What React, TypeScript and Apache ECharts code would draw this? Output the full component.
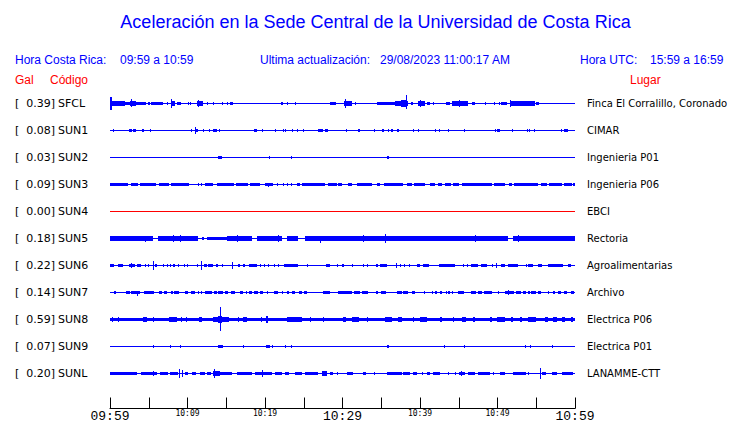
import React, { useEffect, useRef } from 'react';
import * as echarts from 'echarts';

const TITLE = 'Aceleración en la Sede Central de la Universidad de Costa Rica';
const HEADER_LOCAL = ['Hora Costa Rica:', '09:59 a 10:59'];
const HEADER_UPDATE = ['Ultima actualización:', '29/08/2023 11:00:17 AM'];
const HEADER_UTC = ['Hora UTC:', '15:59 a 16:59'];
const COL_HEADS = ['Gal', 'Código', 'Lugar'];

const CODES = ['SFCL', 'SUN1', 'SUN2', 'SUN3', 'SUN4', 'SUN5', 'SUN6', 'SUN7', 'SUN8', 'SUN9', 'SUNL'];
const PEAK_GAL = [0.39, 0.08, 0.03, 0.09, 0.0, 0.18, 0.22, 0.14, 0.59, 0.07, 0.2];
const PLACES = [
  'Finca El Corralillo, Coronado', 'CIMAR', 'Ingenieria P01', 'Ingenieria P06', 'EBCI', 'Rectoria',
  'Agroalimentarias', 'Archivo', 'Electrica P06', 'Electrica P01', 'LANAMME-CTT',
];
const TIME_LABELS = ['09:59', '10:09', '10:19', '10:29', '10:39', '10:49', '10:59'];
const T_MIN = 0;
const T_MAX = 60;

// Events: [start minute, end minute, amplitude up, amplitude down (optional)]
const EV_SFCL = [
  [0.0, 0.25, 6, 6.5], [0.25, 1.9, 1.8], [1.9, 2.6, 1.2], [2.6, 3.4, 2.2], [2.75, 2.9, 4, 3.5],
  [3.4, 4.6, 1.4], [4.9, 5.2, 1], [5.3, 6.9, 1.3], [7.3, 7.45, 0.8], [7.9, 8.4, 2.2], [7.9, 8.05, 4, 4.3],
  [8.6, 9.2, 1.4], [10.0, 10.12, 1], [10.3, 10.42, 0.8], [11.2, 12.0, 2.3], [11.3, 11.45, 3.5, 3.5],
  [12.5, 12.6, 0.6], [13.3, 13.42, 0.6], [14.5, 14.62, 0.6], [15.1, 15.22, 0.6], [15.5, 15.9, 1],
  [22.0, 22.3, 1.2], [22.8, 22.92, 0.6], [23.9, 24.02, 0.6], [28.4, 29.2, 1.3], [30.2, 31.2, 2],
  [30.3, 30.45, 4, 4], [31.6, 31.72, 0.6], [34.4, 36.8, 1.3], [36.8, 38.5, 2.3], [37.6, 38.3, 3.5],
  [38.15, 38.3, 8, 5.5], [38.9, 39.1, 0.7], [39.8, 40.6, 2], [40.0, 40.15, 2.8, 3.2], [40.9, 41.3, 1.2],
  [41.7, 41.82, 0.6], [43.4, 43.9, 1], [44.1, 46.2, 1.8], [45.0, 45.15, 3, 3], [46.7, 47.1, 1.2],
  [48.4, 48.52, 0.6], [49.5, 49.62, 0.6], [50.2, 50.32, 0.6], [50.5, 51.2, 1.2], [51.6, 54.8, 1.6],
  [51.6, 51.75, 3, 3], [55.0, 55.3, 1.2],
];
const EV_SUN1 = [
  [0.43, 0.55, 0.6], [2.45, 2.8, 1.3], [3.0, 3.3, 1.3], [4.17, 4.34, 1.2], [5.16, 5.28, 0.8],
  [10.45, 10.62, 1], [10.97, 11.4, 1.3], [11.0, 11.12, 3, 2.7], [12.04, 12.16, 0.6], [12.77, 12.89, 0.8],
  [13.33, 13.76, 1.3], [14.11, 14.23, 0.6], [18.62, 18.97, 1.3], [19.57, 19.69, 0.8], [21.29, 21.46, 1.1],
  [22.28, 22.4, 0.8], [22.58, 22.7, 0.8], [23.44, 23.56, 0.8], [24.17, 24.29, 0.8], [24.95, 25.07, 0.8],
  [26.88, 27.53, 1.3], [27.74, 28.09, 1.3], [30.41, 30.53, 0.8], [32.04, 32.26, 1.2], [34.11, 34.23, 0.8],
  [35.14, 35.31, 1.2], [35.91, 36.03, 0.8], [36.22, 36.34, 0.8], [36.43, 36.55, 0.8], [37.08, 37.25, 1.2],
  [39.14, 39.26, 0.8], [39.78, 39.9, 0.8], [41.94, 42.06, 0.8], [42.49, 42.61, 0.8], [43.66, 43.78, 0.8],
  [45.68, 45.8, 0.6], [49.68, 49.8, 0.8], [49.98, 50.32, 1.3], [51.91, 52.03, 0.8], [53.76, 53.88, 0.8],
  [54.06, 54.24, 1.2], [54.71, 54.83, 0.6], [58.19, 58.31, 0.6], [58.62, 59.05, 1.3],
];
const EV_SUN2 = [[13.98, 14.41, 1.3], [20.47, 20.59, 0.8], [23.4, 23.52, 0.8], [35.74, 36.0, 1.2]];
const EV_SUN3 = [
  [0, 2.28, 1.3], [2.71, 3.66, 1.3], [3.91, 5.89, 1.3], [6.32, 7.61, 1.3], [7.87, 10.19, 1.3],
  [11.31, 11.43, 0.8], [11.7, 11.83, 0.8], [12.26, 13.33, 1.3], [13.76, 16.0, 1.3], [16.2, 17.8, 1.3],
  [18.0, 19.35, 1.3], [20.0, 21.08, 1.3], [20.43, 20.55, 1.3, 2], [21.51, 21.72, 1.3], [22.37, 22.49, 0.8],
  [22.8, 22.92, 1], [23.35, 23.53, 1.3], [24.09, 24.52, 1.3], [24.82, 27.74, 1.3], [28.17, 29.25, 1.3],
  [29.46, 29.98, 1.3], [30.67, 31.27, 1.3], [31.83, 33.76, 1.3], [34.41, 34.84, 1.3], [35.4, 37.85, 1.3],
  [38.28, 38.92, 1.3], [39.27, 40.65, 1.3], [41.29, 41.94, 1.3], [42.37, 42.8, 1.3], [43.23, 44.0, 1.3],
  [44.3, 45.03, 1.3], [45.38, 49.25, 1.3], [49.59, 50.97, 1.3], [51.48, 51.91, 1.3], [52.17, 55.27, 1.3],
  [55.61, 56.34, 1.3], [56.65, 58.28, 1.3], [58.62, 59.57, 1.3], [59.78, 60, 1.3],
];
const EV_SUN4: number[][] = [];
const EV_SUN5 = [
  [0, 1.5, 1.8], [1.5, 3.2, 2.0], [3.2, 4.4, 1.7], [4.4, 5.59, 1.9], [4.5, 4.62, 2, 3],
  [6.24, 8.0, 1.8], [8.0, 9.5, 2.1], [8.17, 8.3, 3, 3], [9.0, 9.12, 3, 3], [9.5, 11.4, 1.7],
  [11.83, 12.17, 1.2], [12.47, 15.05, 1.5], [15.05, 18.28, 2.0], [16.34, 16.46, 3, 3],
  [18.92, 22.15, 1.8], [21.72, 21.84, 3, 3], [22.8, 24.3, 1.8], [25.16, 27.0, 1.7], [27.1, 27.22, 2, 4],
  [27.0, 30.0, 1.8], [30.0, 32.5, 1.9], [32.5, 35.0, 2.1], [32.69, 32.81, 3, 3], [33.76, 33.88, 2.5, 2.5],
  [35.0, 36.5, 2.0], [35.48, 35.6, 4, 4], [36.5, 42.0, 1.8], [42.0, 47.5, 1.9], [42.37, 42.49, 2.5, 2.5],
  [47.1, 47.22, 3, 3], [47.5, 51.4, 1.8], [52.04, 60, 1.8], [52.69, 52.81, 3, 3], [55.27, 55.39, 2.5, 2.5],
  [59.35, 59.47, 2.5, 2.5],
];
const EV_SUN6 = [
  [0, 0.56, 1.2], [1.08, 1.72, 1.2], [2.45, 3.23, 1.5], [2.65, 2.77, 2, 2], [3.53, 3.96, 1],
  [4.52, 4.64, 0.8], [4.95, 5.07, 0.8], [5.55, 5.67, 4, 4], [5.81, 6.02, 1], [6.88, 7.0, 0.6],
  [7.31, 7.43, 0.6], [7.74, 7.86, 0.8], [8.17, 8.39, 1.1], [8.73, 8.85, 0.6], [9.59, 9.71, 0.6],
  [9.89, 10.01, 0.6], [11.18, 11.3, 0.6], [11.8, 11.92, 4.5, 4.5], [12.13, 12.47, 1.1], [12.69, 13.33, 1.1],
  [13.68, 13.89, 1.1], [14.41, 14.54, 1], [15.8, 15.92, 3.5, 3.5], [16.56, 16.77, 1], [17.2, 17.42, 1.1],
  [17.98, 18.92, 1.1], [19.35, 19.47, 0.6], [19.91, 20.03, 0.8], [20.43, 20.55, 0.8], [21.2, 21.32, 0.8],
  [21.72, 21.84, 0.8], [22.45, 24.3, 1.1], [25.38, 25.59, 1], [27.83, 28.39, 1.1], [29.33, 29.45, 0.8],
  [29.98, 30.24, 1], [31.18, 31.3, 0.8], [32.69, 32.81, 0.6], [33.2, 33.32, 0.6], [34.28, 34.54, 1],
  [34.84, 35.7, 1.1], [36.86, 36.98, 2.5, 2.5], [37.42, 37.54, 0.6], [37.98, 38.1, 0.6], [38.58, 38.7, 0.6],
  [39.57, 40.0, 1.1], [40.43, 41.16, 1.1], [42.45, 44.52, 1.3], [45.59, 45.71, 0.6], [46.02, 46.14, 0.6],
  [46.58, 47.44, 1.1], [47.87, 48.6, 1.3], [49.25, 49.37, 1], [49.76, 49.88, 2.5, 2.5], [50.45, 50.97, 1.1],
  [51.4, 52.6, 1.1], [53.63, 53.75, 0.6], [53.98, 54.62, 1.1], [55.18, 55.7, 1.3], [56.47, 58.49, 1.1],
  [59.05, 59.48, 1.3],
];
const EV_SUN7 = [
  [0.56, 0.73, 1], [2.02, 2.58, 1.2], [2.71, 3.87, 1.4], [3.5, 3.62, 1.4, 3], [4.43, 5.72, 1.3],
  [6.32, 6.67, 1.1], [7.01, 7.31, 1], [7.87, 8.09, 1], [8.3, 8.9, 1.2], [9.68, 10.11, 1.1],
  [10.45, 10.97, 1.1], [11.31, 11.43, 0.8], [11.7, 11.91, 1], [12.26, 13.12, 1.2], [13.46, 13.76, 1],
  [13.98, 14.62, 1.1], [14.84, 15.18, 1.1], [15.61, 16.13, 1.1], [16.77, 17.2, 1.1], [17.51, 17.63, 0.8],
  [17.94, 18.28, 1], [18.62, 19.14, 1.1], [19.35, 19.78, 1], [20.22, 20.43, 1], [21.2, 21.72, 1.2],
  [22.15, 22.37, 1], [22.88, 23.1, 1], [23.44, 23.87, 1.1], [24.43, 24.73, 1], [25.08, 25.38, 1],
  [27.53, 28.39, 1.2], [29.46, 31.18, 1.3], [31.53, 32.26, 1.2], [32.47, 33.33, 1.3], [34.28, 34.62, 1],
  [34.97, 35.57, 1.2], [36.99, 37.63, 1.3], [37.85, 38.49, 1.1], [38.92, 39.35, 1.1], [40.56, 40.68, 0.8],
  [41.51, 41.72, 1], [41.94, 42.15, 1], [42.58, 42.8, 1], [43.31, 43.48, 1], [43.66, 43.83, 1],
  [44.09, 44.21, 0.8], [44.86, 45.72, 1.1], [46.58, 47.18, 1.1], [47.44, 48.04, 1.1], [48.3, 49.33, 1.3],
  [50.02, 50.19, 1], [50.97, 52.09, 1.3], [51.4, 51.52, 1.8, 1.8], [52.34, 53.03, 1.1], [53.33, 53.63, 1.1],
  [53.89, 54.19, 1.1], [54.32, 54.92, 1.2], [55.27, 55.61, 1.1], [56.47, 56.65, 1], [57.2, 57.42, 1],
  [57.76, 58.19, 1], [58.62, 58.92, 1], [59.48, 59.91, 1.2],
];
const EV_SUN8 = [
  [0, 60, 1.5], [0.22, 0.43, 2], [1.02, 1.14, 2.2], [4.3, 4.73, 2.2], [5.53, 5.65, 1.9], [7.61, 8.6, 2.3],
  [9.2, 9.32, 1.9], [9.83, 9.95, 1.9], [11.53, 11.83, 2.1], [13.33, 13.98, 2.2], [13.98, 14.49, 3.5],
  [14.2, 14.35, 7, 6.5], [14.15, 14.28, 12, 11.3], [14.49, 15.35, 2.2], [16.5, 16.62, 1.9], [17.2, 17.63, 1.9],
  [19.5, 19.62, 1.9], [20.09, 20.43, 3], [22.8, 24.82, 2.1], [25.75, 25.87, 1.9], [27.47, 27.59, 1.9],
  [30.11, 30.41, 2.1], [31.18, 32.13, 2.1], [33.2, 33.32, 1.9], [35.48, 36.34, 2.3], [37.2, 37.72, 2.3],
  [39.1, 39.22, 1.9], [40.0, 40.86, 2.1], [42.58, 42.88, 2.1], [44.25, 44.37, 1.9], [45.38, 45.9, 2.1],
  [46.8, 47.05, 2.1], [49.03, 49.25, 2.1], [49.98, 50.97, 2.1], [51.74, 52.04, 2.1], [52.9, 53.12, 2],
  [53.98, 54.92, 2.5], [56.13, 56.56, 2.1], [57.2, 57.63, 2], [58.37, 58.71, 2], [59.48, 59.78, 2],
];
const EV_SUN9 = [
  [5.59, 5.71, 1], [7.74, 7.86, 1], [9.03, 9.15, 1], [13.98, 14.62, 1.3], [17.2, 17.32, 0.8],
  [20.13, 20.65, 1.3], [20.95, 21.07, 0.6], [22.58, 22.7, 0.6], [23.35, 23.47, 1], [31.7, 31.82, 0.5],
  [35.74, 36.04, 1.1], [43.14, 43.26, 0.6], [45.68, 45.8, 1], [53.55, 53.67, 0.8], [54.24, 54.36, 0.6],
  [56.99, 57.11, 0.6],
];
const EV_SUNL = [
  [0, 3.44, 1.2], [4.0, 6.02, 1.2], [5.55, 5.67, 2, 2], [6.45, 7.53, 1.2], [7.74, 8.82, 1.3],
  [8.85, 8.97, 4, 4], [9.3, 9.42, 3.5, 3.5], [9.68, 10.02, 1], [10.62, 11.05, 1], [11.61, 12.26, 1.2],
  [12.47, 13.03, 1.2], [13.33, 14.19, 2.2], [13.45, 13.57, 4.5, 4.5], [14.19, 15.7, 1.5], [16.34, 18.28, 1.2],
  [18.71, 20.86, 1.5], [19.55, 19.67, 3.5, 3.5], [21.29, 22.15, 1], [22.58, 23.1, 1.3], [23.87, 24.73, 1],
  [25.16, 26.88, 1.2], [27.31, 27.96, 1.6], [28.39, 28.82, 1], [29.33, 29.45, 0.8], [30.54, 31.4, 1],
  [32.69, 32.99, 1.2], [34.0, 34.12, 0.6], [35.7, 37.63, 1.3], [37.85, 38.71, 1.2], [39.14, 39.57, 1],
  [40.22, 40.34, 0.8], [40.86, 41.29, 0.9], [41.72, 42.58, 1], [43.66, 43.78, 0.6], [44.52, 44.64, 0.6],
  [45.03, 45.81, 1.5], [45.25, 45.37, 2.5, 2.5], [46.24, 47.1, 1], [47.53, 49.03, 1.1], [49.46, 49.58, 0.8],
  [50.32, 50.97, 1], [52.04, 53.63, 1.2], [53.98, 54.1, 0.6], [55.5, 55.62, 5, 4.7], [55.74, 56.2, 1],
  [56.99, 57.63, 1], [58.28, 59.74, 1.2],
];
const EVENTS: number[][][] = [EV_SFCL, EV_SUN1, EV_SUN2, EV_SUN3, EV_SUN4, EV_SUN5, EV_SUN6, EV_SUN7, EV_SUN8, EV_SUN9, EV_SUNL];

const BLUE = '#0000ff';
const RED = '#ff0000';
const GRID_LEFT = 110;
const GRID_WIDTH = 465;
const ROW0_Y = 103.5;
const ROW_GAP = 27;
const AXIS_Y = 408.5;
const AMP_PER_ROW = 27;

export default function App() {
  const ref = useRef<HTMLDivElement>(null);
  useEffect(() => {
    const chart = echarts.init(ref.current!, null, { renderer: 'svg' });
    const gridTop = ROW0_Y - ROW_GAP;
    const gridHeight = AXIS_Y - gridTop;
    const yMax = -1 + gridHeight / ROW_GAP;

    const items: number[][] = [];
    EVENTS.forEach((evs, row) =>
      evs.forEach((e) => items.push([e[0], e[1], row, e[2], e.length > 3 ? e[3] : e[2]]))
    );

    const baseSeries = CODES.map((c, row) => ({
      type: 'line',
      name: c,
      data: [[T_MIN, row], [T_MAX, row]],
      symbol: 'none',
      silent: true,
      z: 2,
      lineStyle: { width: 1, color: EVENTS[row].length ? BLUE : RED },
    }));

    const txt = (text: string, x: number, y: number, font: string, fill: string, align = 'left') => ({
      type: 'text',
      x,
      y,
      silent: true,
      style: { text, x: 0, y: 0, font, fill, align, verticalAlign: 'middle', textAlign: align, textVerticalAlign: 'middle' },
    });
    const HF = '12px "Liberation Sans", Arial, sans-serif';
    const LF = '11px "DejaVu Sans", sans-serif';
    const RF = '10px "DejaVu Sans", sans-serif';
    const graphics: any[] = [
      txt(TITLE, 375.5, 22, '18px "Liberation Sans", Arial, sans-serif', BLUE, 'center'),
      txt(HEADER_LOCAL[0], 15, 60, HF, BLUE),
      txt(HEADER_LOCAL[1], 120, 60, HF, BLUE),
      txt(HEADER_UPDATE[0], 260, 60, HF, BLUE),
      txt(HEADER_UPDATE[1], 380, 60, HF, BLUE),
      txt(HEADER_UTC[0], 580, 60, HF, BLUE),
      txt(HEADER_UTC[1], 650, 60, HF, BLUE),
      txt(COL_HEADS[0], 15, 80, HF, RED),
      txt(COL_HEADS[1], 50, 80, HF, RED),
      txt(COL_HEADS[2], 630, 80, HF, RED),
    ];
    CODES.forEach((code, i) => {
      const y = ROW0_Y + i * ROW_GAP;
      graphics.push(txt('[', 15, y, LF, '#000'));
      graphics.push(txt(PEAK_GAL[i].toFixed(2) + ']', 55, y, LF, '#000', 'right'));
      graphics.push(txt(code, 58, y, LF, '#000'));
      graphics.push(txt(PLACES[i], 587, y, RF, '#000'));
    });

    chart.setOption({
      animation: false,
      backgroundColor: '#fff',
      grid: { left: GRID_LEFT, top: gridTop, width: GRID_WIDTH, height: gridHeight },
      xAxis: {
        type: 'value',
        position: 'bottom',
        min: T_MIN,
        max: T_MAX,
        interval: 5,
        splitLine: { show: false },
        axisLine: { onZero: false, lineStyle: { color: '#000', width: 1 } },
        axisTick: { inside: true, length: 11, lineStyle: { color: '#000', width: 1 } },
        axisLabel: {
          margin: 1,
          showMinLabel: true,
          showMaxLabel: true,
          formatter: (v: number) => {
            if (v % 10 !== 0) return '';
            const i = v / 10;
            return i % 3 === 0 ? `{b|${TIME_LABELS[i]}}` : `{s|${TIME_LABELS[i]}}`;
          },
          rich: {
            b: { fontSize: 13, lineHeight: 14, fontFamily: '"Liberation Mono", monospace', color: '#000' },
            s: { fontSize: 8, lineHeight: 8, fontFamily: '"DejaVu Sans Mono", monospace', color: '#000' },
          },
        },
      },
      yAxis: { type: 'value', inverse: true, min: -1, max: yMax, show: false },
      graphic: graphics,
      series: [
        ...baseSeries,
        {
          type: 'custom',
          data: items,
          encode: { x: [0, 1], y: 2 },
          silent: true,
          z: 3,
          renderItem: (params: any, api: any) => {
            const row = api.value(2);
            const a = api.coord([api.value(0), row]);
            const b = api.coord([api.value(1), row]);
            const k = Math.abs(api.size([0, 1])[1]) / AMP_PER_ROW;
            const x0 = Math.round(a[0]);
            const w = Math.max(1, Math.round(b[0]) - x0);
            const y0 = Math.floor(a[1] - api.value(3) * k);
            const y1 = Math.ceil(a[1] + api.value(4) * k);
            return {
              type: 'rect',
              shape: { x: x0, y: y0, width: w, height: y1 - y0 },
              style: { fill: BLUE },
            };
          },
        },
      ],
    });
    return () => chart.dispose();
  }, []);
  return <div ref={ref} style={{ position: 'fixed', left: 0, top: 0, width: 740, height: 423 }} />;
}
